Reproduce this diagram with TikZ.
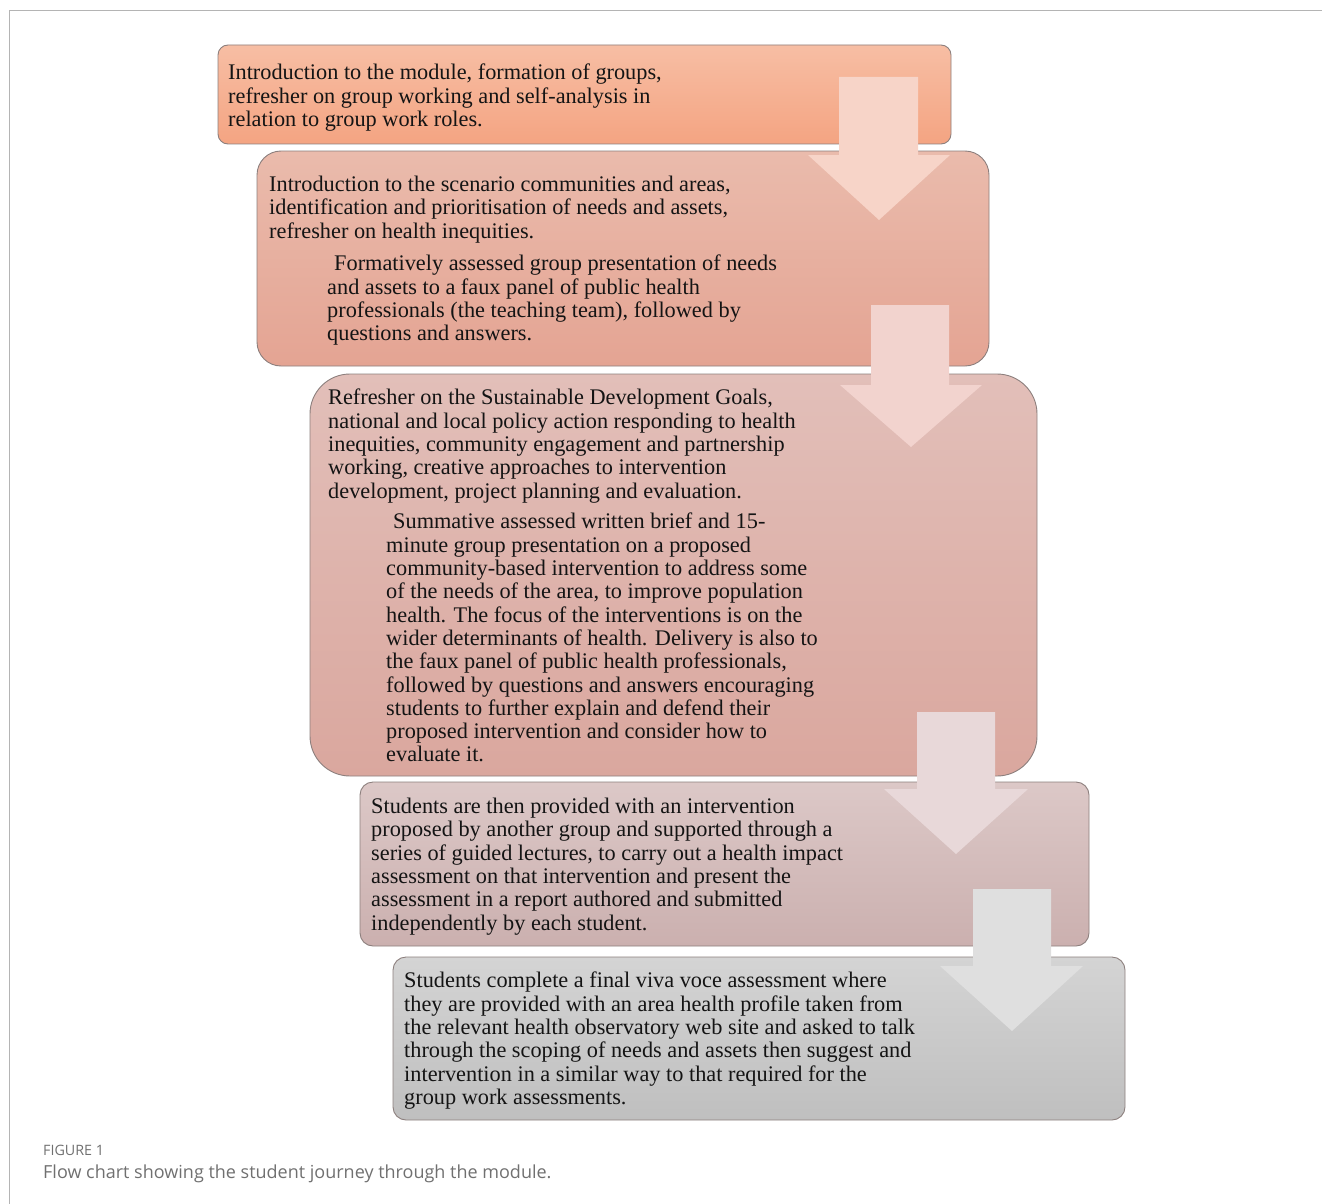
\documentclass[tikz,border=0pt]{standalone}
\usepackage{fontspec}
\setmainfont{Liberation Serif}
\newfontfamily\capfont{Open Sans}
\definecolor{framec}{HTML}{B4B4B4}
\definecolor{edgec}{HTML}{8C7F7D}
\definecolor{txt}{HTML}{141414}
\definecolor{capc}{HTML}{707070}
\definecolor{bAt}{HTML}{F7BEA4}\definecolor{bAb}{HTML}{F4A482}
\definecolor{bBt}{HTML}{EABBAC}\definecolor{bBb}{HTML}{E4A493}
\definecolor{bCt}{HTML}{E2BFB9}\definecolor{bCb}{HTML}{DAA79E}
\definecolor{bDt}{HTML}{DCC8C7}\definecolor{bDb}{HTML}{CBB0AF}
\definecolor{bEt}{HTML}{D4D4D4}\definecolor{bEb}{HTML}{BFBFBF}
\definecolor{aA}{HTML}{F7D4C8}
\definecolor{aB}{HTML}{F2D3CE}
\definecolor{aC}{HTML}{E8D8D9}
\definecolor{aD}{HTML}{DFDFDF}
\tikzset{
  stagebox/.style={draw=edgec, line width=0.9pt, inner sep=0pt, outer sep=0pt, anchor=north west},
  bodytext/.style={anchor=north west, inner sep=0pt, align=left, text=txt,
     font=\fontsize{22.3}{23.3}\selectfont},
}
\newcommand{\fs}{\rule{0pt}{15pt}}
\begin{document}
\begin{tikzpicture}[x=1pt,y=-1pt]
\useasboundingbox (0,0) rectangle (1322,1204);
% frame
\coordinate (fbl) at (9.5,1204);
\coordinate (ftl) at (9.5,10.5);
\coordinate (ftr) at (1322,10.5);
\draw[framec, line width=1pt] (fbl) -- (ftl) -- (ftr);

% boxes
\node[stagebox, rounded corners=10pt, top color=bAt, bottom color=bAb,
  minimum width=733pt, minimum height=99pt] (b1) at (218,45) {};
\node[stagebox, rounded corners=24pt, top color=bBt, bottom color=bBb,
  minimum width=732pt, minimum height=215pt] (b2) at (257,151) {};
\node[stagebox, rounded corners=40pt, top color=bCt, bottom color=bCb,
  minimum width=727pt, minimum height=402pt] (b3) at (310,374) {};
\node[stagebox, rounded corners=13pt, top color=bDt, bottom color=bDb,
  minimum width=729pt, minimum height=164pt] (b4) at (360,782) {};
\node[stagebox, rounded corners=13pt, top color=bEt, bottom color=bEb,
  minimum width=732pt, minimum height=163pt] (b5) at (393,957) {};

% arrows
\fill[aA] (839,77) -- (918,77) -- (918,155) -- (950,155) -- (879,220) -- (808,155) -- (839,155) -- cycle;
\fill[aB] (871,305) -- (949,305) -- (949,385) -- (982,385) -- (911,447) -- (840,385) -- (871,385) -- cycle;
\fill[aC] (917,712) -- (995,712) -- (995,789) -- (1028,789) -- (956,854) -- (884,789) -- (917,789) -- cycle;
\fill[aD] (973,889) -- (1051,889) -- (1051,966) -- (1083,966) -- (1012,1031) -- (940,966) -- (973,966) -- cycle;

% texts
\node[bodytext] (t1) at (228,64) {\fs Introduction to the module, formation of groups,\\
refresher on group working and self-analysis in\\
relation to group work roles.};
\node[bodytext] (t2a) at (269,176) {\fs Introduction to the scenario communities and areas,\\
identification and prioritisation of needs and assets,\\
refresher on health inequities.};
\node[bodytext] (t2b) at (327,255) {\fs\hspace{7pt}Formatively assessed group presentation of needs\\
and assets to a faux panel of public health\\
professionals (the teaching team), followed by\\
questions and answers.};
\node[bodytext] (t3a) at (328,389) {\fs Refresher on the Sustainable Development Goals,\\
national and local policy action responding to health\\
inequities, community engagement and partnership\\
working, creative approaches to intervention\\
development, project planning and evaluation.};
\node[bodytext] (t3b) at (386,513) {\fs\hspace{7pt}Summative assessed written brief and 15-\\
minute group presentation on a proposed\\
community-based intervention to address some\\
of the needs of the area, to improve population\\
health. The focus of the interventions is on the\\
wider determinants of health. Delivery is also to\\
the faux panel of public health professionals,\\
followed by questions and answers encouraging\\
students to further explain and defend their\\
proposed intervention and consider how to\\
evaluate it.};
\node[bodytext] (t4) at (371,798) {\fs Students are then provided with an intervention\\
proposed by another group and supported through a\\
series of guided lectures, to carry out a health impact\\
assessment on that intervention and present the\\
assessment in a report authored and submitted\\
independently by each student.};
\node[bodytext] (t5) at (404,972) {\fs Students complete a final viva voce assessment where\\
they are provided with an area health profile taken from\\
the relevant health observatory web site and asked to talk\\
through the scoping of needs and assets then suggest and\\
intervention in a similar way to that required for the\\
group work assessments.};

% caption
\node[anchor=base west, inner sep=0pt, text=capc, font=\capfont\fontsize{14.3}{16}\selectfont] (cap1) at (43,1155) {FIGURE 1};
\node[anchor=base west, inner sep=0pt, text=capc, font=\capfont\fontsize{18}{21}\selectfont] (cap2) at (43,1178) {Flow chart showing the student journey through the module.};
\end{tikzpicture}
\end{document}
